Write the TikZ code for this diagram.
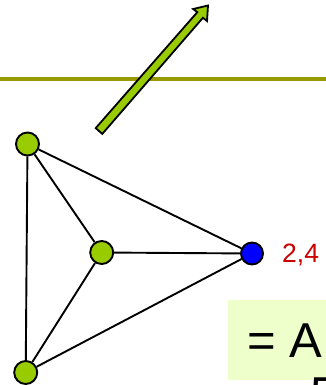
\documentclass[tikz,border=0pt]{standalone}
\usepackage{fontspec}
\setmainfont{Liberation Sans}
\definecolor{vgreen}{HTML}{99CC00}
\definecolor{olivebar}{HTML}{999900}
\definecolor{vred}{HTML}{CC0000}
\definecolor{boxfill}{HTML}{EEFFCC}
\begin{document}
\begin{tikzpicture}[x=1pt,y=-1pt,
  vert/.style={circle,draw=black,line width=1.9pt,inner sep=0pt,minimum size=23pt},
  edge/.style={draw=black,line width=1.9pt}]
\useasboundingbox (0,0) rectangle (326,385);
\clip (0,0) rectangle (326,385);
% olive rule
\fill[olivebar] (0,77) rectangle (326,81.5);
% block arrow
\filldraw[fill=vgreen,draw=black,line width=1.8pt,line join=miter]
  (102.3,133.9) -- (202.9,17.8) -- (207.0,21.0) -- (208,5.5) -- (193.2,9.0) -- (197.3,12.2) -- (95.7,128.1) -- cycle;
% vertices
\node[vert,fill=vgreen] (tl) at (27.5,144) {};
\node[vert,fill=vgreen] (c) at (101.7,252.5) {};
\node[vert,fill=vgreen] (bl) at (25.7,372.5) {};
\node[vert,fill=blue,minimum size=22pt] (b) at (252,253.5) {};
% edges
\draw[edge] (tl) -- (bl);
\draw[edge] (tl) -- (c);
\draw[edge] (tl) -- (b);
\draw[edge] (c) -- (b);
\draw[edge] (c) -- (bl);
\draw[edge] (bl) -- (b);
% label
\node[anchor=base west,inner sep=0pt,text=vred,font=\fontsize{26.5}{26.5}\selectfont] (lab) at (282,262) {2,4};
% formula box
\fill[boxfill] (228,300) rectangle (330,380);
\node[anchor=base west,inner sep=0pt,font=\fontsize{49}{49}\selectfont] (eq) at (247.5,357) {= A};
\node[anchor=base west,inner sep=0pt,font=\fontsize{49}{49}\selectfont] (five) at (310,411) {5};
\end{tikzpicture}
\end{document}
